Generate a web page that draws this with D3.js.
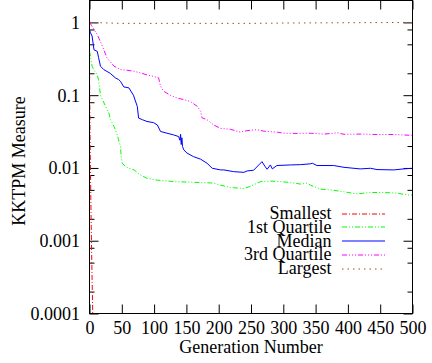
<!DOCTYPE html>
<html>
<head>
<meta charset="utf-8">
<script src="https://cdn.jsdelivr.net/npm/d3@7"></script>
<style>
  body { margin: 0; background: #fff; }
  svg { display: block; font-family: "Liberation Serif", "Times New Roman", serif; }
</style>
</head>
<body>
<svg width="432" height="363"></svg>
<script>
var width = 432;
var height = 363;

// ---------------------------------------------------------------------------
// data (generation, KKTPM value)
// ---------------------------------------------------------------------------
var smallest = [[0,0.26],[1,0.02],[2,0.004],[3,0.001],[4,0.0003],[5,0.0001],[6,0.00003]];

var firstQuartile = [[0,0.4],[1.5,0.343],[4,0.25],[8,0.213],[12,0.19],[14,0.164],[17,0.10],[20,0.087],
    [25,0.070],[30,0.057],[32.5,0.046],[38,0.037],[43,0.0285],[45,0.0243],[48,0.0197],[49,0.0143],
    [50.6,0.0116],[56,0.0104],[61,0.0099],[69,0.0094],[79,0.008],[89,0.0072],[105,0.0068],[130,0.0065],
    [172,0.0063],[192,0.0062],[203,0.0058],[218,0.0054],[239,0.0052],[249,0.0056],[265,0.0065],
    [280,0.0066],[296,0.0065],[311,0.0063],[327,0.006],[337,0.0062],[342,0.0058],[358,0.0051],
    [373,0.005],[394,0.0047],[414,0.0044],[435,0.0046],[456,0.0046],[476,0.0045],[497,0.0042],[500,0.0043]];

var median = [[0,0.8],[1.5,0.72],[4,0.65],[7,0.42],[12,0.40],[14,0.33],[17,0.25],[22,0.225],[32,0.20],
    [40,0.173],[45,0.164],[48,0.155],[53,0.13],[61,0.126],[68,0.10],[74,0.070],[76,0.0485],[82,0.046],
    [89,0.0435],[99,0.042],[105,0.039],[110,0.0317],[120,0.030],[130,0.0285],[138,0.027],[140,0.024],
    [141,0.029],[142,0.021],[143,0.026],[144,0.0197],[146,0.0177],[151,0.016],[161,0.0143],[172,0.0132],
    [182,0.0116],[190,0.0099],[203,0.0094],[208,0.0094],[223,0.0089],[239,0.0087],[244,0.0091],
    [254,0.0093],[262,0.011],[267,0.0122],[272,0.0104],[275,0.0096],[280,0.011],[283,0.0097],
    [290,0.0108],[311,0.011],[327,0.0111],[342,0.0114],[345,0.0116],[352,0.0108],[378,0.0108],
    [394,0.0102],[419,0.0097],[435,0.0099],[445,0.0095],[471,0.0094],[486,0.0097],[500,0.0099]];

var thirdQuartile = [[0,1.0],[3,0.91],[12,0.68],[20,0.47],[27,0.326],[38,0.25],[48,0.225],[58,0.22],
    [69,0.213],[79,0.202],[89,0.19],[100,0.18],[107,0.173],[110,0.132],[115,0.113],[125,0.10],
    [136,0.091],[146,0.087],[156,0.082],[167,0.070],[172,0.060],[174,0.049],[182,0.046],[192,0.039],
    [203,0.035],[218,0.034],[234,0.031],[239,0.032],[249,0.033],[260,0.0335],[270,0.032],[291,0.031],
    [301,0.030],[322,0.0298],[342,0.030],[363,0.0292],[378,0.030],[383,0.0305],[394,0.0290],
    [420,0.0292],[445,0.0288],[471,0.0288],[497,0.0281],[500,0.028]];

var largest = [[0,1],[50,0.97],[250,0.97],[300,0.98],[500,1]];

var seriesNames = ["Smallest", "1st Quartile", "Median", "3rd Quartile", "Largest"];
var seriesData = [smallest, firstQuartile, median, thirdQuartile, largest];
var seriesColors = ["#ff0000", "#00ff00", "#0000ff", "#ff00ff", "#a0522d"];
var seriesDash = ["5,2,1,2", "5,2,1,2,1,2", null, "5,2,1,2,1,2,1,2", "1.5,4"];

var xTicks = [0, 50, 100, 150, 200, 250, 300, 350, 400, 450, 500];
var yTicks = [0.0001, 0.001, 0.01, 0.1, 1];
var yTickLabels = ["0.0001", "0.001", "0.01", "0.1", "1"];
var yMinorTicks = [];
[0.0001, 0.001, 0.01, 0.1].forEach(function(d) {
    [2, 5, 8].forEach(function(m) { yMinorTicks.push(d * m); });
});

// ---------------------------------------------------------------------------
// scales
// ---------------------------------------------------------------------------
var plotLeft = 89.5, plotRight = 412.5, plotTop = 0.5, plotBottom = 313.5;

var x = d3.scaleLinear().domain([0, 500]).range([plotLeft, plotRight]);
var y = d3.scaleLog().domain([0.0001, 2]).range([plotBottom, plotTop]);

var svg = d3.select("svg");

svg.append("clipPath").attr("id", "plotclip")
  .append("rect")
    .attr("x", plotLeft).attr("y", plotTop)
    .attr("width", plotRight - plotLeft).attr("height", plotBottom - plotTop);

// ---------------------------------------------------------------------------
// axes (ticks drawn inward on all sides)
// ---------------------------------------------------------------------------
function styleAxis(g) {
    g.attr("font-family", null).attr("font-size", null);
    g.select(".domain").remove();
    g.selectAll("line").attr("stroke", "#000");
}

svg.append("g")
    .attr("transform", "translate(0," + plotBottom + ")")
    .call(d3.axisBottom(x).tickValues(xTicks).tickSize(-9).tickFormat(d3.format("d")))
    .call(styleAxis)
    .call(function(g) {
        g.selectAll("text").attr("y", 20.5).attr("dy", null)
            .attr("font-size", 18).attr("fill", "#000");
    });

svg.append("g")
    .attr("transform", "translate(0," + plotTop + ")")
    .call(d3.axisTop(x).tickValues(xTicks).tickSize(-9).tickFormat(""))
    .call(styleAxis);

svg.append("g")
    .attr("transform", "translate(" + plotLeft + ",0)")
    .call(d3.axisLeft(y).tickValues(yTicks).tickSize(-9)
        .tickFormat(function(d, i) { return yTickLabels[i]; }))
    .call(styleAxis)
    .call(function(g) {
        g.selectAll("text").attr("x", -9.5).attr("dy", "0.33em")
            .attr("font-size", 18).attr("fill", "#000");
    });

svg.append("g")
    .attr("transform", "translate(" + plotLeft + ",0)")
    .call(d3.axisLeft(y).tickValues(yMinorTicks).tickSize(-5).tickFormat(""))
    .call(styleAxis);

svg.append("g")
    .attr("transform", "translate(" + plotRight + ",0)")
    .call(d3.axisRight(y).tickValues(yTicks).tickSize(-9).tickFormat(""))
    .call(styleAxis);

svg.append("g")
    .attr("transform", "translate(" + plotRight + ",0)")
    .call(d3.axisRight(y).tickValues(yMinorTicks).tickSize(-5).tickFormat(""))
    .call(styleAxis);

// ---------------------------------------------------------------------------
// lines
// ---------------------------------------------------------------------------
var line = d3.line()
    .x(function(d) { return x(d[0]); })
    .y(function(d) { return y(d[1]); });

var plot = svg.append("g").attr("clip-path", "url(#plotclip)");

seriesData.forEach(function(data, i) {
    plot.append("path")
        .datum(data)
        .attr("d", line)
        .attr("fill", "none")
        .attr("stroke", seriesColors[i])
        .attr("stroke-width", 1)
        .attr("stroke-dasharray", seriesDash[i]);
});

// frame
svg.append("rect")
    .attr("x", plotLeft).attr("y", plotTop)
    .attr("width", plotRight - plotLeft).attr("height", plotBottom - plotTop)
    .attr("fill", "none").attr("stroke", "#000").attr("stroke-width", 1);

// ---------------------------------------------------------------------------
// legend
// ---------------------------------------------------------------------------
var legend = svg.append("g");
seriesNames.forEach(function(name, i) {
    var base = 219 + i * 13.8;
    legend.append("text")
        .attr("x", 331.5).attr("y", base)
        .attr("text-anchor", "end")
        .attr("font-size", 18)
        .text(name);
    legend.append("line")
        .attr("x1", 342).attr("x2", 385)
        .attr("y1", Math.round(base - 5.5)).attr("y2", Math.round(base - 5.5))
        .attr("stroke", seriesColors[i])
        .attr("stroke-width", 1.2)
        .attr("stroke-dasharray", seriesDash[i]);
});

// ---------------------------------------------------------------------------
// axis titles
// ---------------------------------------------------------------------------
svg.append("text")
    .attr("x", (plotLeft + plotRight) / 2).attr("y", 353)
    .attr("text-anchor", "middle")
    .attr("font-size", 18)
    .text("Generation Number");

svg.append("text")
    .attr("transform", "translate(25,161) rotate(-90)")
    .attr("text-anchor", "middle")
    .attr("font-size", 18)
    .text("KKTPM Measure");
</script>
</body>
</html>
